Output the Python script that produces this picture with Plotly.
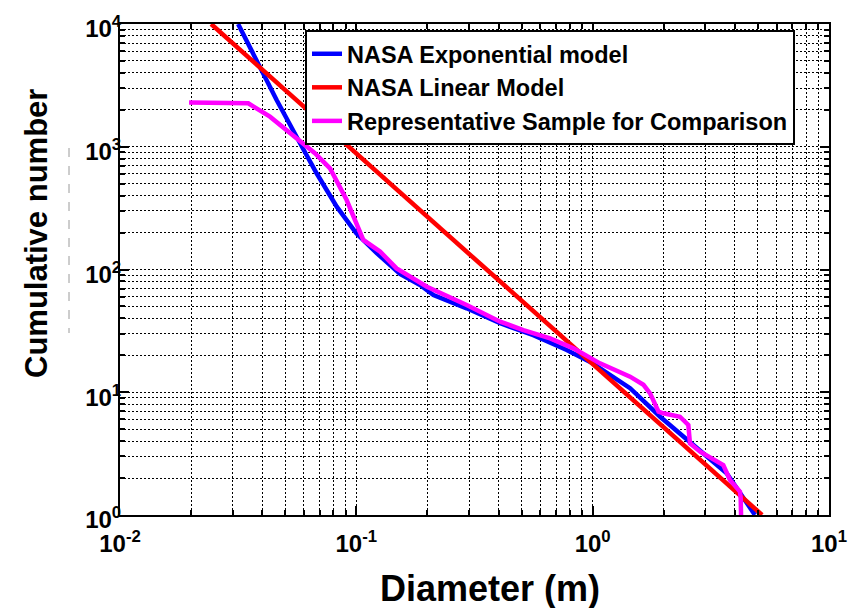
import plotly.graph_objects as go

# Cumulative size distribution of debris objects (log-log)
exp_diameter = [0.0316, 0.0391, 0.046, 0.0578, 0.0679, 0.0826, 0.100,
                0.122, 0.153, 0.186, 0.212, 0.293, 0.406, 0.561, 0.777, 1.0, 1.44,
                1.93, 2.85, 3.69, 4.86]
exp_count = [10000, 4490, 2404, 1067, 608, 325, 197,
             136, 92, 74.8, 62, 48.3, 36.5, 29.2, 22.1, 17.2, 10.8,
             6.32, 3.39, 2.19, 1.0]

lin_diameter = [0.0243, 5.21]
lin_count = [10000, 1.0]

sample_diameter = [0.0196, 0.027, 0.0349, 0.0431, 0.054, 0.0668, 0.0774, 0.091, 0.107,
                   0.126, 0.148, 0.186, 0.199, 0.293, 0.406, 0.509, 0.661, 0.829,
                   1.074, 1.44, 1.64, 1.75, 1.90, 1.99, 2.34, 2.54, 2.58, 2.85,
                   3.30, 3.57, 3.81, 4.20, 4.23, 4.25]
sample_count = [2290, 2260, 2260, 1758, 1247, 885, 667, 368, 174,
                140, 102, 79.6, 72.4, 51.4, 37.6, 32.1, 27.5, 22.8,
                17.2, 13.4, 11.5, 9.8, 6.95, 6.74, 6.32, 5.41, 3.84, 3.28,
                2.81, 2.55, 1.93, 1.55, 1.37, 0.9]

x_major = [0.01, 0.1, 1, 10]
x_major_text = ["10<sup>-2</sup>", "10<sup>-1</sup>", "10<sup>0</sup>", "10<sup>1</sup>"]
y_major = [1, 10, 100, 1000, 10000]
y_major_text = ["10<sup>0</sup>", "10<sup>1</sup>", "10<sup>2</sup>", "10<sup>3</sup>", "10<sup>4</sup>"]

x_minor = [m * 10 ** e for e in (-2, -1, 0) for m in range(2, 10)]
y_minor = [m * 10 ** e for e in (0, 1, 2, 3) for m in range(2, 10)]

FONT = "Liberation Sans"

fig = go.Figure()
fig.add_trace(go.Scatter(x=exp_diameter, y=exp_count, mode="lines",
                         name="NASA Exponential model",
                         line=dict(color="#0000ff", width=4.5)))
fig.add_trace(go.Scatter(x=lin_diameter, y=lin_count, mode="lines",
                         name="NASA Linear Model",
                         line=dict(color="#ff0000", width=4.5)))
fig.add_trace(go.Scatter(x=sample_diameter, y=sample_count, mode="lines",
                         name="Representative Sample for Comparison",
                         line=dict(color="#ff00ff", width=4.5)))

grid = dict(gridcolor="black", gridwidth=1, griddash="2px,2px")
axis_common = dict(
    type="log", showline=True, linecolor="black", linewidth=2, mirror="allticks",
    ticks="inside", ticklen=9, tickwidth=1.5, tickcolor="black",
    showgrid=True, zeroline=False, automargin=False,
    tickfont=dict(family=FONT, size=24, color="black", weight="bold"),
    **grid,
)

fig.update_xaxes(range=[-2, 1], tickvals=x_major, ticktext=x_major_text,
                 ticklabelstandoff=6,
                 minor=dict(tickvals=x_minor, ticks="inside", ticklen=5,
                            tickcolor="black", showgrid=True, **grid),
                 **axis_common)
fig.update_yaxes(range=[0, 4], tickvals=y_major, ticktext=y_major_text,
                 ticklabelstandoff=-8, ticklabelshift=5,
                 minor=dict(tickvals=y_minor, ticks="inside", ticklen=5,
                            tickcolor="black", showgrid=True, **grid),
                 **axis_common)

fig.update_layout(
    width=856, height=608,
    margin=dict(l=120, r=27, t=24, b=93),
    plot_bgcolor="white", paper_bgcolor="white",
    font=dict(family=FONT, color="black"),
    showlegend=True,
    legend=dict(x=(305 - 120) / 709, y=1 - 6 / 491, xanchor="left", yanchor="top",
                bgcolor="white", bordercolor="black", borderwidth=2,
                font=dict(family=FONT, size=23.5, color="black", weight="bold"),
                tracegroupgap=0, itemwidth=30),
    annotations=[
        dict(text="Diameter (m)", xref="paper", yref="paper",
             x=(490 - 120) / 709, y=-(588 - 515) / 491,
             xanchor="center", yanchor="middle", showarrow=False,
             font=dict(family=FONT, size=36, color="black", weight="bold")),
        dict(text="Cumulative number", xref="paper", yref="paper",
             x=-(120 - 36) / 709, y=(515 - 234) / 491, textangle=-90,
             xanchor="center", yanchor="middle", showarrow=False,
             font=dict(family=FONT, size=31, color="black", weight="bold")),
    ],
    shapes=[
        dict(type="line", xref="paper", yref="paper",
             x0=-(120 - 69) / 709, x1=-(120 - 69) / 709,
             y0=(515 - 148) / 491, y1=(515 - 333) / 491,
             line=dict(color="#9a9a9a", width=1, dash="dash")),
    ],
)

fig.write_html("out.html")
